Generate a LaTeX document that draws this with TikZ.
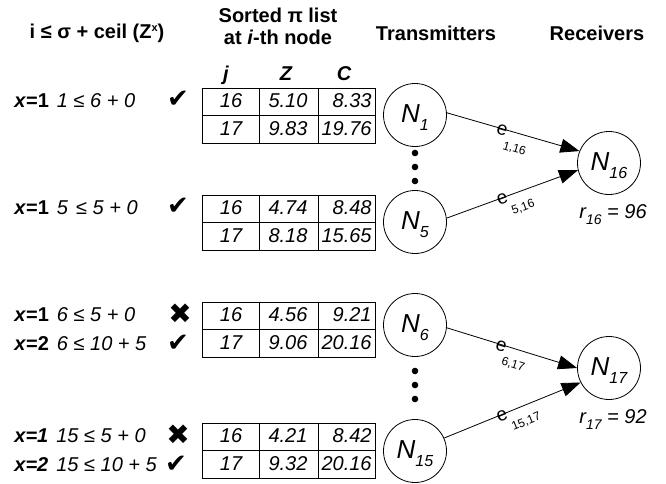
\documentclass[tikz,border=0pt]{standalone}
\usepackage{fontspec}
\setmainfont{Liberation Sans}
\newfontfamily\dingfont{DejaVu Sans}
\usetikzlibrary{arrows.meta, positioning}

\newcommand{\nlab}[2]{\textit{#1\raisebox{-8pt}{\fontsize{16}{16}\selectfont #2}}}
\newcommand{\rlab}[2]{\textit{r\raisebox{-6pt}{\fontsize{14}{14}\selectfont #1} = #2}}
\newcommand{\esub}[1]{\rlap{\smash{\raisebox{-13pt}{\fontsize{12}{12}\selectfont #1}}}}
\newcommand{\okmark}{{\dingfont\fontsize{26}{26}\selectfont ✔}}
\newcommand{\failmark}{{\dingfont\fontsize{28}{28}\selectfont ✖}}

\begin{document}
\begin{tikzpicture}[x=1pt, y=-1pt, line width=0.8pt, >={Triangle[length=19pt, width=14pt]},
	every node/.style={font=\fontsize{20}{22}\selectfont, inner sep=0pt},
	head/.style={font=\fontsize{20}{22}\selectfont\bfseries, align=center},
	colhead/.style={anchor=base, font=\fontsize{20}{22}\selectfont\bfseries\itshape},
	cell/.style={anchor=base, font=\fontsize{20}{22}\selectfont\itshape},
	cond/.style={anchor=base west},
	station/.style={circle, draw, minimum size=63pt, text height=18pt, text depth=4pt, font=\fontsize{26}{28}\selectfont},
	elab/.style={sloped, pos=0.42, yshift=-1.5pt, font=\fontsize{19}{20}\selectfont}]
	\useasboundingbox (0,0) rectangle (666,483);

	% Headers
	\node[head] (hcond) at (97,33) {i ≤ σ + ceil (Z\raisebox{7pt}{\fontsize{11}{11}\selectfont x})};
	\node[head] (hlist) at (278,26) {Sorted π list\\at \textit{i}-th node};
	\node[head] (htx) at (436,33) {Transmitters};
	\node[head] (hrx) at (597,33) {Receivers};
	\node[colhead] (hj) at (226,80) {j};
	\node[colhead] (hz) at (286,80) {Z};
	\node[colhead] (hc) at (344,80) {C};

	% Sorted lists
	\foreach \t/\ty/\za/\ca/\zb/\cb in {1/88/5.10/8.33/9.83/19.76, 5/195/4.74/8.48/8.18/15.65, 6/302/4.56/9.21/9.06/20.16, 15/423/4.21/8.42/9.32/20.16} {
		\draw (202,\ty) rectangle (375,\ty+55);
		\draw (202,\ty+27) -- (375,\ty+27);
		\draw (259,\ty) -- (259,\ty+55) (318,\ty) -- (318,\ty+55);
		\node[cell] (l\t-j1) at (231,\ty+19) {16};
		\node[cell] (l\t-z1) at (288,\ty+19) {\za};
		\node[cell, anchor=base east] (l\t-c1) at (372,\ty+19) {\ca};
		\node[cell] (l\t-j2) at (231,\ty+47) {17};
		\node[cell] (l\t-z2) at (288,\ty+47) {\zb};
		\node[cell, anchor=base east] (l\t-c2) at (372,\ty+47) {\cb};
	}

	% Conditions
	\node[cond] (c1) at (14,107) {\textbf{\textit{x}=1}\hspace{8pt}\textit{1 ≤ 6 + 0}};
	\node[cond] (c5) at (14,214) {\textbf{\textit{x}=1}\hspace{8pt}\textit{5\hspace{8pt}≤ 5 + 0}};
	\node[cond] (c6a) at (14,321) {\textbf{\textit{x}=1}\hspace{8pt}\textit{6 ≤ 5 + 0}};
	\node[cond] (c6b) at (14,350) {\textbf{\textit{x}=2}\hspace{8pt}\textit{6 ≤ 10 + 5}};
	\node[cond] (c15a) at (14,442) {\textbf{\textit{x=1}}\hspace{8pt}\textit{15 ≤ 5 + 0}};
	\node[cond] (c15b) at (14,471) {\textbf{\textit{x=2}}\hspace{8pt}\textit{15 ≤ 10 + 5}};
	\node (m1) at (178,99) {\okmark};
	\node (m5) at (178,206) {\okmark};
	\node (m6a) at (180,314) {\failmark};
	\node (m6b) at (178,343) {\okmark};
	\node (m15a) at (178,435) {\failmark};
	\node (m15b) at (176,464) {\okmark};

	% Transmitters and receivers
	\node[station] (N1) at (415,115) {\nlab{N}{1}};
	\node[station] (N5) at (415,222) {\nlab{N}{5}};
	\node[station] (N6) at (415,325) {\nlab{N}{6}};
	\node[station] (N15) at (415,451) {\nlab{N}{15}};
	\node[station] (N16) at (609,163) {\nlab{N}{16}};
	\node[station] (N17) at (609,368) {\nlab{N}{17}};
	\node[below=9pt of N16, xshift=4pt] (r16) {\rlab{16}{96}};
	\node[below=9pt of N17, xshift=4pt] (r17) {\rlab{17}{92}};
	\foreach \y in {153,167,181,371,385,399}
		\fill (415,\y) circle (3.3pt);

	% Links
	\draw[->] (N1.4) -- node[elab] (e1) {e\esub{1,16}} (N16.158);
	\draw[->] (N5.7) -- node[elab] (e5) {e\esub{5,16}} (N16.193);
	\draw[->] (N6.-5) -- node[elab] (e6) {e\esub{6,17}} (N17.180);
	\draw[->] (N15.24) -- node[elab] (e15) {e\esub{15,17}} (N17.207);
\end{tikzpicture}
\end{document}
